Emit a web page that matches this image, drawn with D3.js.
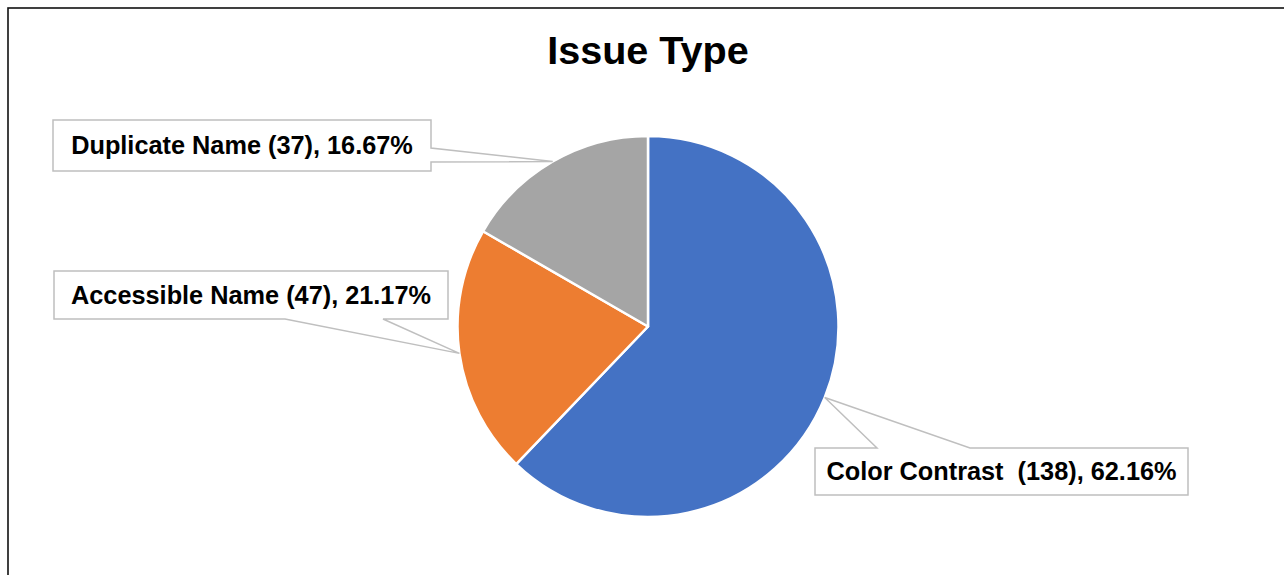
<!DOCTYPE html>
<html><head><meta charset="utf-8">
<script src="https://cdn.jsdelivr.net/npm/d3@7"></script>
<style>
html,body{margin:0;padding:0;background:#fff;}
svg{display:block;}
text{font-family:"Liberation Sans",Arial,sans-serif;font-weight:bold;fill:#000;white-space:pre;}
</style></head>
<body>
<svg id="chart" width="1284" height="575"></svg>
<script>
const categories = ["Color Contrast ", "Accessible Name", "Duplicate Name"];
const values = [138, 47, 37];
const colors = ["#4472C4", "#ED7D31", "#A5A5A5"];
const title = "Issue Type";

// layout of callout boxes (x, y, w, h, side where the pointer leaves, base positions along that side)
const boxLayout = [
  {x: 815, y: 448, w: 373, h: 47, side: "top", b1: 877, b2: 970},
  {x: 54, y: 271, w: 394, h: 48, side: "bottom", b1: 285, b2: 383},
  {x: 53, y: 120, w: 378, h: 51, side: "right", b1: 148, b2: 162}
];

const svg = d3.select("#chart");
const W = 1284, H = 575;

// outer border
svg.append("rect").attr("x", 8).attr("y", 8).attr("width", W + 20).attr("height", H + 20)
  .attr("fill", "none").attr("stroke", "#111").attr("stroke-width", 1.6);

svg.append("text").attr("x", 648).attr("y", 64).attr("text-anchor", "middle")
  .style("font-size", "39.6px").text(title);

const cx = 648, cy = 326.5, r = 190.5;
const total = d3.sum(values);
const data = categories.map((c, i) => ({name: c, value: values[i], color: colors[i], i}));
const pie = d3.pie().value(d => d.value).sort(null);
const arcs = pie(data);
const arc = d3.arc().innerRadius(0).outerRadius(r);

const g = svg.append("g").attr("transform", `translate(${cx},${cy})`);
g.selectAll("path").data(arcs).join("path")
  .attr("d", arc).attr("fill", d => d.data.color)
  .attr("stroke", "#fff").attr("stroke-width", 2.5).attr("stroke-linejoin", "round");

// callouts
arcs.forEach((a, i) => {
  const L = boxLayout[i];
  const mid = (a.startAngle + a.endAngle) / 2;
  const tx = cx + r * Math.sin(mid), ty = cy - r * Math.cos(mid);
  const x0 = L.x, y0 = L.y, x1 = L.x + L.w, y1 = L.y + L.h;
  let pts;
  if (L.side === "top") {
    pts = [[x0,y0],[L.b1,y0],[tx,ty],[L.b2,y0],[x1,y0],[x1,y1],[x0,y1]];
  } else if (L.side === "bottom") {
    pts = [[x0,y0],[x1,y0],[x1,y1],[L.b2,y1],[tx,ty],[L.b1,y1],[x0,y1]];
  } else {
    pts = [[x0,y0],[x1,y0],[x1,L.b1],[tx,ty],[x1,L.b2],[x1,y1],[x0,y1]];
  }
  svg.append("path").attr("d", d3.line()(pts) + "Z")
    .attr("fill", "#fff").attr("stroke", "#BFBFBF").attr("stroke-width", 1.5);
  const pct = (a.data.value / total * 100).toFixed(2);
  svg.append("text").attr("x", (x0 + x1) / 2).attr("y", (y0 + y1) / 2 + 8.8)
    .attr("text-anchor", "middle").style("font-size", "25.3px")
    .text(`${a.data.name} (${a.data.value}), ${pct}%`);
});
</script>
</body></html>
